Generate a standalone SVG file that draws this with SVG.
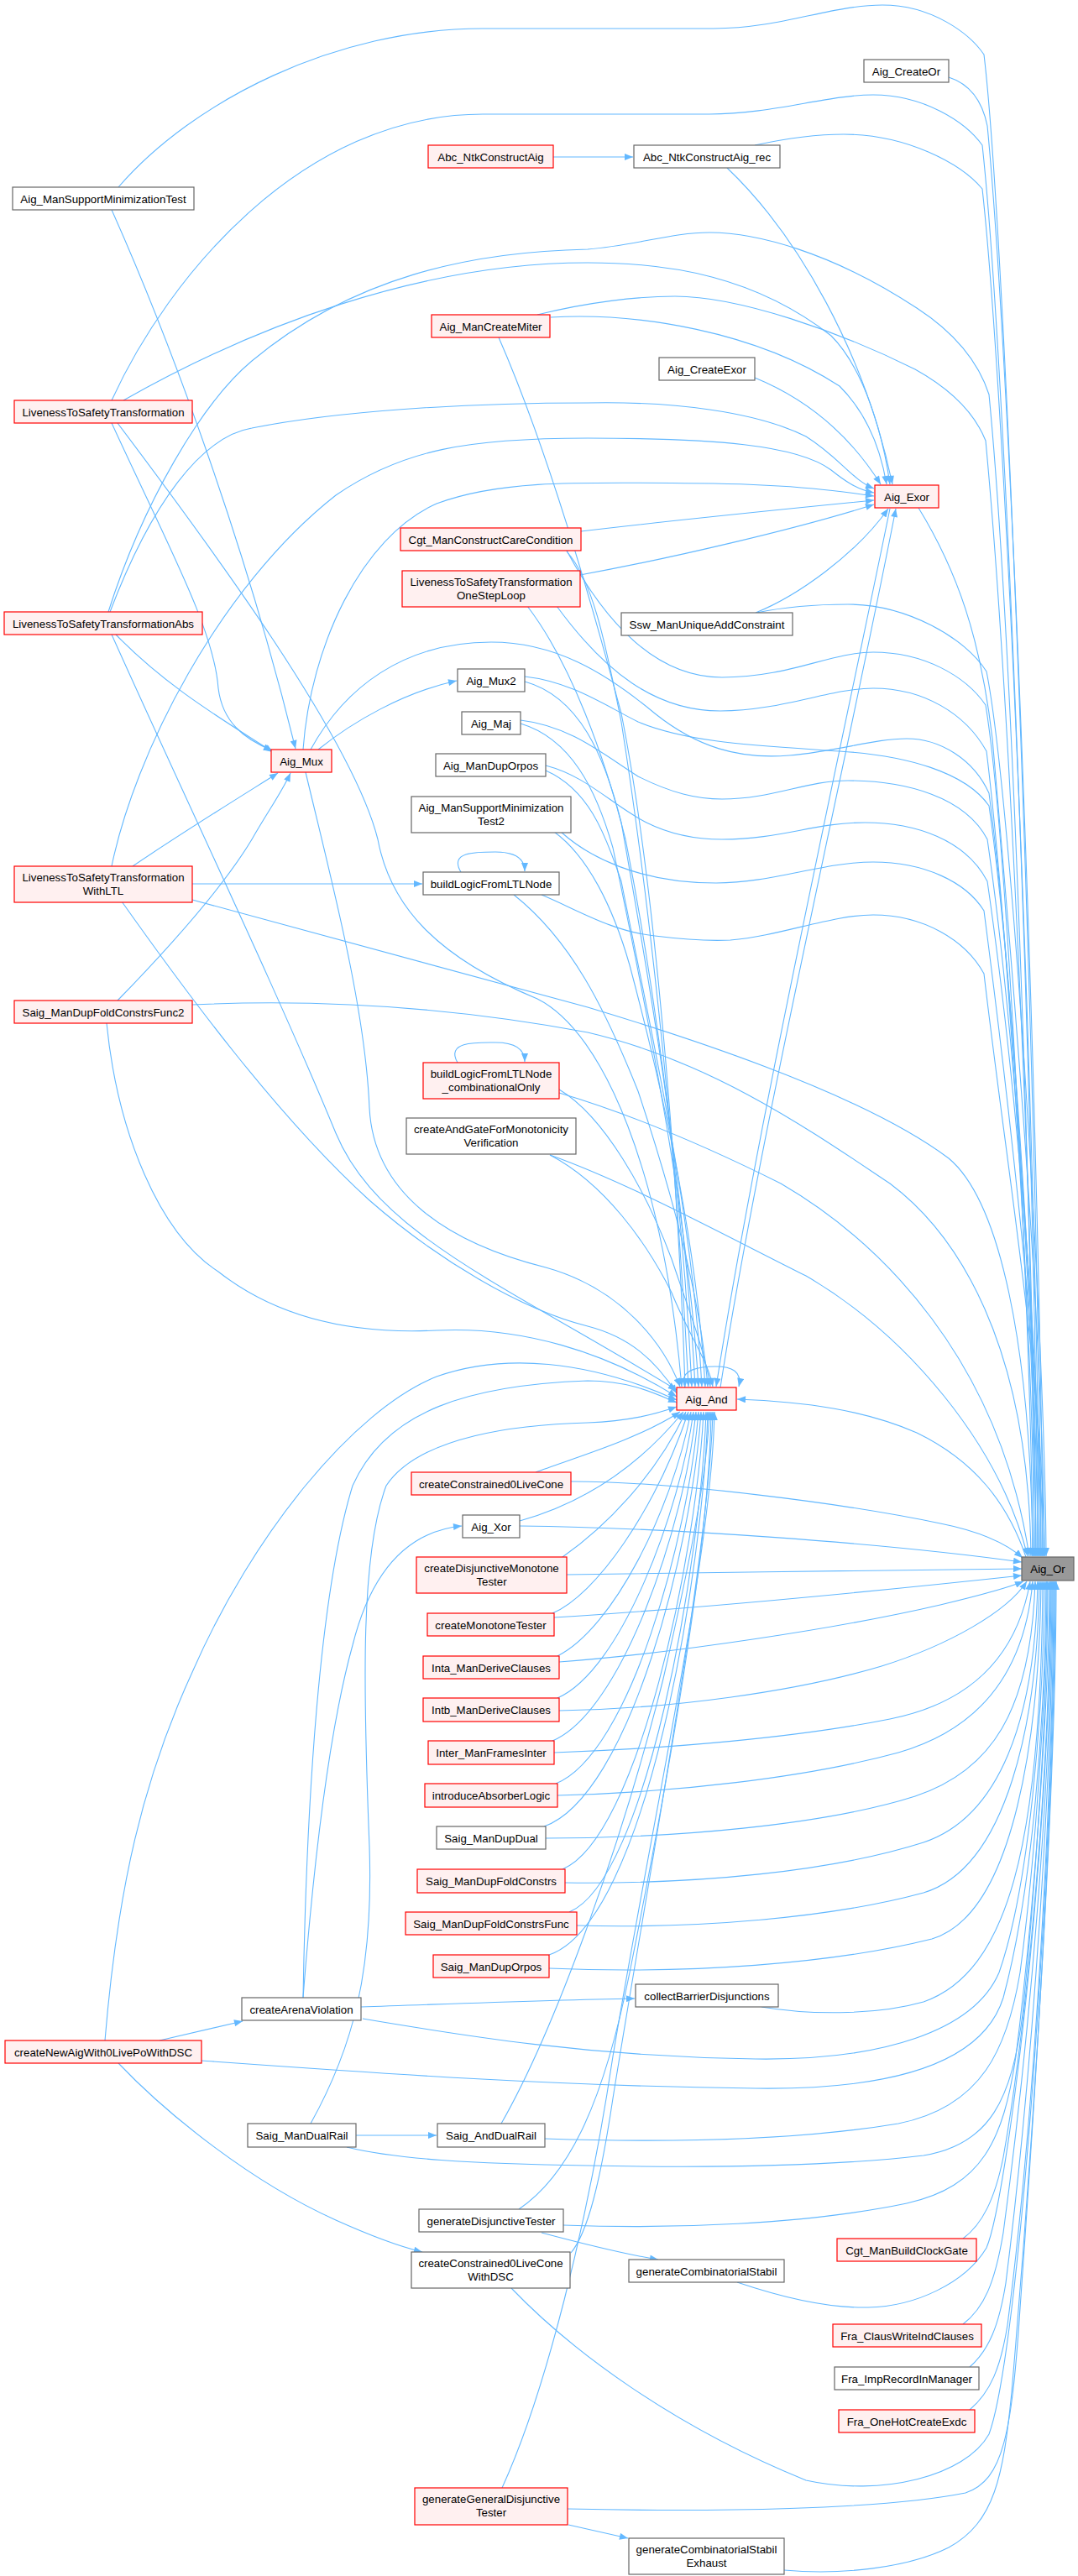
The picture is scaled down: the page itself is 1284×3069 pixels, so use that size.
<svg xmlns="http://www.w3.org/2000/svg" width="1284" height="3069" viewBox="0 0 1284 3069">
<defs>
<marker id="a" viewBox="0 0 10 8" refX="10" refY="4" markerWidth="11" markerHeight="8" markerUnits="userSpaceOnUse" orient="auto"><path d="M0,0L10,4L0,8z" fill="#63b8ff"/></marker>
<style>
.e path{fill:none;stroke:#63b8ff;stroke-width:1.1;marker-end:url(#a)}
.g rect{fill:#ffffff;stroke:#666666;stroke-width:1.2}
.r rect{fill:#fff0f0;stroke:#ff0000;stroke-width:1.2}
.root rect{fill:#999999;stroke:#666666;stroke-width:1.2}
text{font-family:"Liberation Sans",Arial,sans-serif;font-size:13.3px;text-anchor:middle;fill:#000000}
</style>
</defs>
<rect width="1284" height="3069" fill="#ffffff"/>
<g id="edges" class="e">
<path d="M141,223 C230,120 400,34 575,34 L850,34 C930,34 990,6 1051,6 C1110,6 1155,40 1172,65 C1200,300 1238,1400 1240,1854"/>
<path d="M1130,92 C1155,100 1170,120 1176,150 C1205,450 1240,1400 1242,1854"/>
<path d="M899,173 C950,162 980,160 1005,160 C1080,160 1145,195 1170,225 C1200,500 1236,1400 1238,1854"/>
<path d="M133,477 C200,330 360,136 575,136 L845,136 C920,136 985,113 1040,113 C1100,113 1150,145 1170,173 C1200,450 1234,1400 1236,1854"/>
<path d="M640,375 C700,360 760,353 804,353 C880,353 1000,395 1090,440 C1135,465 1162,495 1174,525 C1200,800 1232,1450 1234,1854"/>
<path d="M129,729 C170,600 240,480 300,430 C420,330 560,300 700,297 C760,292 800,277 845,277 C900,277 990,300 1092,367 C1135,395 1165,430 1178,470 C1205,750 1230,1450 1232,1854"/>
<path d="M1094,605 C1140,680 1168,760 1182,880 C1210,1200 1243,1600 1244,1854"/>
<path d="M675,656 C720,740 780,807 860,807 C940,807 990,777 1040,777 C1100,777 1150,805 1174,840 C1200,1000 1229,1600 1230,1854"/>
<path d="M663,722 C720,800 780,847 858,847 C930,847 990,820 1040,820 C1100,820 1150,850 1175,895 C1200,1100 1231,1600 1232,1854"/>
<path d="M901,730 C940,722 980,720 1010,720 C1080,720 1150,760 1175,800 C1205,950 1245,1600 1246,1854"/>
<path d="M370,893 C410,820 480,765 585,765 C660,765 720,800 780,850 C830,890 880,905 940,900 C1000,895 1040,880 1080,880 C1120,880 1160,905 1178,945 C1205,1150 1233,1600 1234,1854"/>
<path d="M625,806 C680,812 720,840 760,860 C820,885 900,888 1000,895 C1080,900 1150,920 1178,960 C1205,1150 1235,1600 1236,1854"/>
<path d="M620,858 C680,865 720,900 760,925 C800,945 830,952 860,952 C920,952 960,930 1010,930 C1080,930 1150,950 1176,1000 C1205,1200 1237,1600 1238,1854"/>
<path d="M650,912 C700,925 730,960 770,980 C800,995 830,1000 860,1000 C930,1000 970,980 1030,980 C1090,980 1150,1000 1176,1050 C1205,1250 1239,1600 1240,1854"/>
<path d="M668,991 C700,1020 760,1052 853,1052 C920,1052 980,1027 1040,1027 C1100,1027 1150,1050 1172,1085 C1200,1300 1241,1650 1242,1854"/>
<path d="M645,1066 C690,1085 730,1110 780,1115 C820,1120 850,1121 870,1120 C930,1115 990,1090 1040,1090 C1100,1090 1150,1120 1172,1160 C1200,1400 1243,1650 1244,1854"/>
<path d="M229,1072 C400,1120 550,1160 700,1200 C900,1260 1050,1320 1130,1380 C1190,1430 1228,1600 1230,1854"/>
<path d="M229,1197 C380,1190 540,1200 700,1230 C850,1265 970,1350 1060,1410 C1140,1470 1225,1600 1228,1854"/>
<path d="M666,1302 C760,1330 850,1370 930,1410 C1050,1480 1190,1620 1226,1854"/>
<path d="M655,1376 C750,1410 860,1470 960,1520 C1080,1590 1190,1720 1224,1854"/>
<path d="M1222,1855 C1200,1790 1160,1740 1092,1707 C1030,1680 960,1670 878,1667"/>
<path d="M680,1765 C800,1765 1000,1790 1120,1815 C1170,1825 1200,1840 1218,1856"/>
<path d="M619,1818 C800,1820 1050,1838 1217,1861"/>
<path d="M675,1876 C850,1874 1050,1870 1217,1869"/>
<path d="M660,1927 C850,1915 1050,1895 1217,1877"/>
<path d="M666,1980 C800,1970 1000,1940 1120,1912 C1170,1900 1200,1892 1219,1884"/>
<path d="M666,2038 C800,2036 950,2015 1050,1985 C1130,1960 1200,1920 1223,1884"/>
<path d="M660,2088 C800,2083 950,2070 1060,2048 C1150,2030 1210,1980 1227,1884"/>
<path d="M664,2139 C800,2136 960,2118 1070,2088 C1160,2062 1220,2000 1230,1884"/>
<path d="M650,2190 C800,2190 980,2175 1090,2140 C1180,2110 1228,2040 1233,1884"/>
<path d="M673,2243 C830,2245 990,2230 1100,2195 C1190,2165 1233,2050 1236,1884"/>
<path d="M687,2294 C830,2298 990,2285 1100,2255 C1200,2225 1236,2050 1238,1884"/>
<path d="M654,2345 C820,2352 990,2340 1110,2310 C1210,2280 1238,2060 1240,1884"/>
<path d="M907,2391 C960,2400 1040,2402 1100,2385 C1200,2350 1240,2200 1242,1884"/>
<path d="M432,2405 C550,2425 700,2450 900,2453 C1050,2455 1160,2420 1190,2350 C1225,2250 1243,2050 1244,1884"/>
<path d="M240,2455 C450,2470 650,2485 900,2488 C1060,2490 1170,2460 1195,2380 C1230,2250 1245,2050 1246,1884"/>
<path d="M649,2548 C800,2553 950,2550 1070,2530 C1170,2510 1200,2440 1215,2350 C1235,2200 1247,2000 1247,1884"/>
<path d="M413,2558 C470,2572 560,2578 700,2580 C850,2583 1000,2580 1100,2568 C1180,2555 1205,2500 1218,2400 C1238,2200 1248,2000 1248,1884"/>
<path d="M671,2651 C800,2656 960,2650 1080,2625 C1170,2605 1195,2550 1210,2450 C1235,2250 1250,2000 1250,1884"/>
<path d="M1147,2667 C1170,2650 1185,2620 1195,2570 C1225,2400 1251,2100 1251,1884"/>
<path d="M878,2719 C940,2740 990,2750 1034,2749 C1090,2748 1150,2720 1175,2678 C1200,2620 1251,2200 1252,1884"/>
<path d="M1147,2769 C1172,2750 1185,2720 1195,2660 C1230,2400 1253,2100 1253,1884"/>
<path d="M1155,2820 C1178,2800 1190,2770 1198,2720 C1232,2450 1254,2100 1254,1884"/>
<path d="M1155,2871 C1180,2850 1192,2820 1200,2770 C1235,2500 1255,2100 1255,1884"/>
<path d="M609,2726 C680,2800 800,2890 960,2955 C1050,2975 1150,2950 1178,2900 C1215,2800 1256,2200 1256,1884"/>
<path d="M676,2989 C850,2993 1050,2990 1150,2970 C1195,2955 1205,2900 1215,2750 C1240,2400 1257,2100 1257,1884"/>
<path d="M934,3062 C1000,3068 1080,3060 1130,3035 C1185,3005 1195,2950 1205,2850 C1235,2500 1258,2100 1258,1884"/>
<path d="M594,402 C650,530 700,700 740,850 C780,1050 808,1400 816,1652"/>
<path d="M675,657 C705,690 720,760 740,860 C770,1050 805,1350 820,1652"/>
<path d="M628,722 C680,790 720,900 745,1000 C775,1150 812,1400 824,1652"/>
<path d="M625,812 C690,830 720,900 740,980 C770,1150 815,1400 828,1652"/>
<path d="M620,862 C680,880 710,940 730,1010 C770,1200 820,1450 832,1652"/>
<path d="M650,918 C700,940 720,990 740,1050 C780,1250 825,1450 836,1652"/>
<path d="M660,991 C700,1020 730,1080 750,1150 C790,1300 830,1480 840,1652"/>
<path d="M612,1066 C680,1120 720,1200 760,1300 C800,1420 835,1550 843,1652"/>
<path d="M666,1298 C720,1330 770,1420 800,1500 C820,1560 840,1610 846,1652"/>
<path d="M655,1376 C720,1410 770,1480 800,1540 C820,1590 843,1620 849,1652"/>
<path d="M1060,606 C1000,900 900,1350 853,1652"/>
<path d="M858,1653 C905,1350 1010,900 1067,606"/>
<path d="M140,504 C250,650 420,880 450,1000 C465,1080 520,1140 640,1190 C720,1230 790,1400 812,1652"/>
<path d="M133,756 C220,950 330,1180 400,1350 C450,1470 600,1530 806,1656"/>
<path d="M364,920 C395,1050 435,1200 440,1320 C445,1420 530,1480 650,1510 C740,1535 790,1600 810,1652"/>
<path d="M145,1074 C220,1180 330,1330 440,1430 C520,1500 620,1560 700,1580 C750,1593 780,1620 806,1660"/>
<path d="M127,1219 C140,1350 190,1470 260,1515 C330,1570 420,1590 520,1585 C620,1580 720,1610 806,1664"/>
<path d="M125,2431 C140,2250 170,2120 230,1990 C300,1830 420,1680 520,1640 C600,1612 700,1620 806,1668"/>
<path d="M361,2380 C365,2150 380,1900 420,1770 C460,1680 560,1650 700,1645 C750,1645 780,1660 806,1671"/>
<path d="M370,2530 C420,2440 445,2350 440,2200 C432,2000 430,1850 460,1770 C500,1710 620,1697 700,1695 C750,1693 780,1685 806,1676"/>
<path d="M638,1754 C680,1738 760,1715 810,1682"/>
<path d="M619,1812 C680,1795 750,1760 814,1682"/>
<path d="M670,1855 C720,1820 780,1760 817,1682"/>
<path d="M658,1922 C710,1900 780,1800 820,1682"/>
<path d="M664,1973 C730,1940 800,1800 823,1682"/>
<path d="M664,2023 C740,1990 810,1800 826,1682"/>
<path d="M658,2074 C740,2040 815,1820 829,1682"/>
<path d="M662,2125 C750,2090 820,1830 832,1682"/>
<path d="M648,2176 C750,2140 825,1840 835,1682"/>
<path d="M670,2227 C760,2190 830,1850 838,1682"/>
<path d="M678,2278 C770,2240 835,1860 841,1682"/>
<path d="M654,2329 C770,2290 838,1870 843,1682"/>
<path d="M597,2530 C660,2420 740,2200 790,2000 C820,1870 842,1760 845,1682"/>
<path d="M618,2632 C680,2590 720,2500 750,2350 C790,2150 845,1850 847,1682"/>
<path d="M680,2684 C700,2660 715,2600 730,2500 C770,2250 845,1850 849,1682"/>
<path d="M598,2964 C650,2850 700,2650 730,2450 C780,2150 848,1850 851,1682"/>
<path d="M816,1653 C806,1630 838,1628 852,1628 C872,1628 884,1634 880,1652"/>
<path d="M656,378 C760,372 900,395 1000,460 C1030,490 1048,530 1056,577"/>
<path d="M866,200 C950,280 1030,420 1063,577"/>
<path d="M899,450 C960,475 1010,515 1049,577"/>
<path d="M147,477 C300,390 500,313 700,313 C800,313 900,330 990,400 C1030,440 1052,520 1060,577"/>
<path d="M131,729 C180,600 240,520 300,510 C400,490 550,480 700,480 C800,478 900,490 960,520 C1000,545 1015,572 1041,582"/>
<path d="M133,1032 C160,900 260,700 400,590 C480,535 560,522 700,522 C850,522 950,530 990,560 C1005,572 1020,583 1041,587"/>
<path d="M361,893 C370,770 430,640 520,600 C600,570 700,575 850,576 C950,578 1000,585 1041,591"/>
<path d="M692,633 C800,620 950,605 1041,596"/>
<path d="M691,685 C800,665 950,630 1041,601"/>
<path d="M900,730 C950,710 1020,660 1058,606"/>
<path d="M133,250 C200,400 290,640 352,892"/>
<path d="M133,504 C200,650 255,750 260,820 C265,860 290,880 324,894"/>
<path d="M138,756 C200,820 270,860 325,896"/>
<path d="M158,1032 C220,990 285,950 331,921"/>
<path d="M140,1192 C210,1120 270,1050 300,1000 C320,965 335,945 346,921"/>
<path d="M379,893 C420,860 480,825 544,811"/>
<path d="M659,187 L754,187"/>
<path d="M229,1053 L503,1053"/>
<path d="M549,1039 C535,1015 565,1015 590,1015 C610,1015 625,1020 625,1038"/>
<path d="M545,1266 C530,1240 570,1242 590,1242 C610,1242 625,1248 625,1265"/>
<path d="M361,2380 C375,2200 395,2050 420,1960 C440,1880 480,1825 550,1818"/>
<path d="M430,2391 C550,2387 650,2383 756,2381"/>
<path d="M190,2431 L289,2408"/>
<path d="M141,2458 C200,2520 300,2600 400,2645 C440,2663 470,2675 503,2683"/>
<path d="M424,2544 L520,2544"/>
<path d="M645,2660 C690,2672 740,2685 784,2692"/>
<path d="M677,3008 L748,3024"/>
</g>
<g id="n_aig_createor" class="g"><rect x="1029" y="71" width="101" height="27"/><text x="1079.5" y="89.7">Aig_CreateOr</text></g>
<g id="n_abc_ntkconstructaig" class="r"><rect x="510" y="173" width="149" height="27"/><text x="584.5" y="191.7">Abc_NtkConstructAig</text></g>
<g id="n_abc_ntkconstructaig_rec" class="g"><rect x="755" y="173" width="174" height="27"/><text x="842" y="191.7">Abc_NtkConstructAig_rec</text></g>
<g id="n_aig_mansupportminimizationtest" class="g"><rect x="15" y="223" width="216" height="27"/><text x="123" y="241.7">Aig_ManSupportMinimizationTest</text></g>
<g id="n_aig_mancreatemiter" class="r"><rect x="514" y="375" width="141" height="27"/><text x="584.5" y="393.7">Aig_ManCreateMiter</text></g>
<g id="n_aig_createexor" class="g"><rect x="785" y="426" width="114" height="27"/><text x="842" y="444.7">Aig_CreateExor</text></g>
<g id="n_livenesstosafetytransformation" class="r"><rect x="17" y="477" width="212" height="27"/><text x="123" y="495.7">LivenessToSafetyTransformation</text></g>
<g id="n_aig_exor" class="r"><rect x="1042" y="578" width="76" height="27"/><text x="1080" y="596.7">Aig_Exor</text></g>
<g id="n_cgt_manconstructcarecondition" class="r"><rect x="477" y="629" width="215" height="27"/><text x="584.5" y="647.7">Cgt_ManConstructCareCondition</text></g>
<g id="n_ltst_onesteploop" class="r"><rect x="479" y="680" width="212" height="43"/><text x="585" y="698">LivenessToSafetyTransformation</text><text x="585" y="714">OneStepLoop</text></g>
<g id="n_ltst_abs" class="r"><rect x="5" y="729" width="236" height="27"/><text x="123" y="747.7">LivenessToSafetyTransformationAbs</text></g>
<g id="n_ssw_manuniqueaddconstraint" class="g"><rect x="740" y="730" width="204" height="27"/><text x="842" y="748.7">Ssw_ManUniqueAddConstraint</text></g>
<g id="n_aig_mux2" class="g"><rect x="545" y="797" width="80" height="27"/><text x="585" y="815.7">Aig_Mux2</text></g>
<g id="n_aig_maj" class="g"><rect x="550" y="848" width="70" height="27"/><text x="585" y="866.7">Aig_Maj</text></g>
<g id="n_aig_mux" class="r"><rect x="323" y="893" width="72" height="27"/><text x="359" y="911.7">Aig_Mux</text></g>
<g id="n_aig_mandupOrpos" class="g"><rect x="519" y="898" width="131" height="27"/><text x="584.5" y="916.7">Aig_ManDupOrpos</text></g>
<g id="n_aig_mansupportminimizationtest2" class="g"><rect x="490" y="949" width="190" height="43"/><text x="585" y="967">Aig_ManSupportMinimization</text><text x="585" y="983">Test2</text></g>
<g id="n_ltst_withltl" class="r"><rect x="17" y="1032" width="212" height="43"/><text x="123" y="1050">LivenessToSafetyTransformation</text><text x="123" y="1066">WithLTL</text></g>
<g id="n_buildlogicfromltlnode" class="g"><rect x="504" y="1039" width="162" height="27"/><text x="585" y="1057.7">buildLogicFromLTLNode</text></g>
<g id="n_saig_mandupfoldconstrsfunc2" class="r"><rect x="17" y="1192" width="212" height="27"/><text x="123" y="1210.7">Saig_ManDupFoldConstrsFunc2</text></g>
<g id="n_buildlogic_comb" class="r"><rect x="504" y="1266" width="162" height="43"/><text x="585" y="1284">buildLogicFromLTLNode</text><text x="585" y="1300">_combinationalOnly</text></g>
<g id="n_createandgate" class="g"><rect x="484" y="1332" width="202" height="43"/><text x="585" y="1350">createAndGateForMonotonicity</text><text x="585" y="1366">Verification</text></g>
<g id="n_aig_and" class="r"><rect x="806" y="1653" width="71" height="27"/><text x="841.5" y="1671.7">Aig_And</text></g>
<g id="n_createconstrained0livecone" class="r"><rect x="490" y="1754" width="190" height="27"/><text x="585" y="1772.7">createConstrained0LiveCone</text></g>
<g id="n_aig_xor" class="g"><rect x="551" y="1805" width="68" height="27"/><text x="585" y="1823.7">Aig_Xor</text></g>
<g id="n_createdisjunctivemonotonetester" class="r"><rect x="496" y="1855" width="179" height="43"/><text x="585.5" y="1873">createDisjunctiveMonotone</text><text x="585.5" y="1889">Tester</text></g>
<g id="n_aig_or" class="root"><rect x="1217" y="1855" width="62" height="28"/><text x="1248" y="1874">Aig_Or</text></g>
<g id="n_createmonotonetester" class="r"><rect x="509" y="1922" width="151" height="27"/><text x="584.5" y="1940.7">createMonotoneTester</text></g>
<g id="n_inta_manderiveclauses" class="r"><rect x="504" y="1973" width="162" height="27"/><text x="585" y="1991.7">Inta_ManDeriveClauses</text></g>
<g id="n_intb_manderiveclauses" class="r"><rect x="504" y="2023" width="162" height="28"/><text x="585" y="2042">Intb_ManDeriveClauses</text></g>
<g id="n_inter_manframesinter" class="r"><rect x="510" y="2074" width="150" height="28"/><text x="585" y="2093">Inter_ManFramesInter</text></g>
<g id="n_introduceabsorberlogic" class="r"><rect x="506" y="2125" width="158" height="28"/><text x="585" y="2144">introduceAbsorberLogic</text></g>
<g id="n_saig_mandupdual" class="g"><rect x="520" y="2176" width="130" height="27"/><text x="585" y="2194.7">Saig_ManDupDual</text></g>
<g id="n_saig_mandupfoldconstrs" class="r"><rect x="497" y="2227" width="176" height="28"/><text x="585" y="2246">Saig_ManDupFoldConstrs</text></g>
<g id="n_saig_mandupfoldconstrsfunc" class="r"><rect x="483" y="2278" width="204" height="27"/><text x="585" y="2296.7">Saig_ManDupFoldConstrsFunc</text></g>
<g id="n_saig_manduporpos" class="r"><rect x="516" y="2329" width="138" height="27"/><text x="585" y="2347.7">Saig_ManDupOrpos</text></g>
<g id="n_collectbarrierdisjunctions" class="g"><rect x="757" y="2364" width="170" height="27"/><text x="842" y="2382.7">collectBarrierDisjunctions</text></g>
<g id="n_createarenaviolation" class="g"><rect x="288" y="2380" width="142" height="27"/><text x="359" y="2398.7">createArenaViolation</text></g>
<g id="n_createnewaigwith0livepowithdsc" class="r"><rect x="6" y="2431" width="234" height="27"/><text x="123" y="2449.7">createNewAigWith0LivePoWithDSC</text></g>
<g id="n_saig_mandualrail" class="g"><rect x="295" y="2530" width="129" height="28"/><text x="359.5" y="2549">Saig_ManDualRail</text></g>
<g id="n_saig_anddualrail" class="g"><rect x="521" y="2530" width="128" height="28"/><text x="585" y="2549">Saig_AndDualRail</text></g>
<g id="n_generatedisjunctivetester" class="g"><rect x="499" y="2632" width="172" height="27"/><text x="585" y="2650.7">generateDisjunctiveTester</text></g>
<g id="n_cgt_manbuildclockgate" class="r"><rect x="997" y="2667" width="166" height="27"/><text x="1080" y="2685.7">Cgt_ManBuildClockGate</text></g>
<g id="n_createconstrained0liveconewithdsc" class="g"><rect x="490" y="2683" width="189" height="43"/><text x="584.5" y="2701">createConstrained0LiveCone</text><text x="584.5" y="2717">WithDSC</text></g>
<g id="n_generatecombinatorialstabil" class="g"><rect x="749" y="2692" width="185" height="27"/><text x="841.5" y="2710.7">generateCombinatorialStabil</text></g>
<g id="n_fra_clauswriteindclauses" class="r"><rect x="992" y="2769" width="177" height="27"/><text x="1080.5" y="2787.7">Fra_ClausWriteIndClauses</text></g>
<g id="n_fra_imprecordinmanager" class="g"><rect x="994" y="2820" width="172" height="27"/><text x="1080" y="2838.7">Fra_ImpRecordInManager</text></g>
<g id="n_fra_onehotcreateexdc" class="r"><rect x="999" y="2871" width="162" height="27"/><text x="1080" y="2889.7">Fra_OneHotCreateExdc</text></g>
<g id="n_generategeneraldisjunctivetester" class="r"><rect x="494" y="2964" width="182" height="44"/><text x="585" y="2982">generateGeneralDisjunctive</text><text x="585" y="2998">Tester</text></g>
<g id="n_generatecombinatorialstabilexhaust" class="g"><rect x="749" y="3024" width="185" height="43"/><text x="841.5" y="3042">generateCombinatorialStabil</text><text x="841.5" y="3058">Exhaust</text></g>
</svg>
